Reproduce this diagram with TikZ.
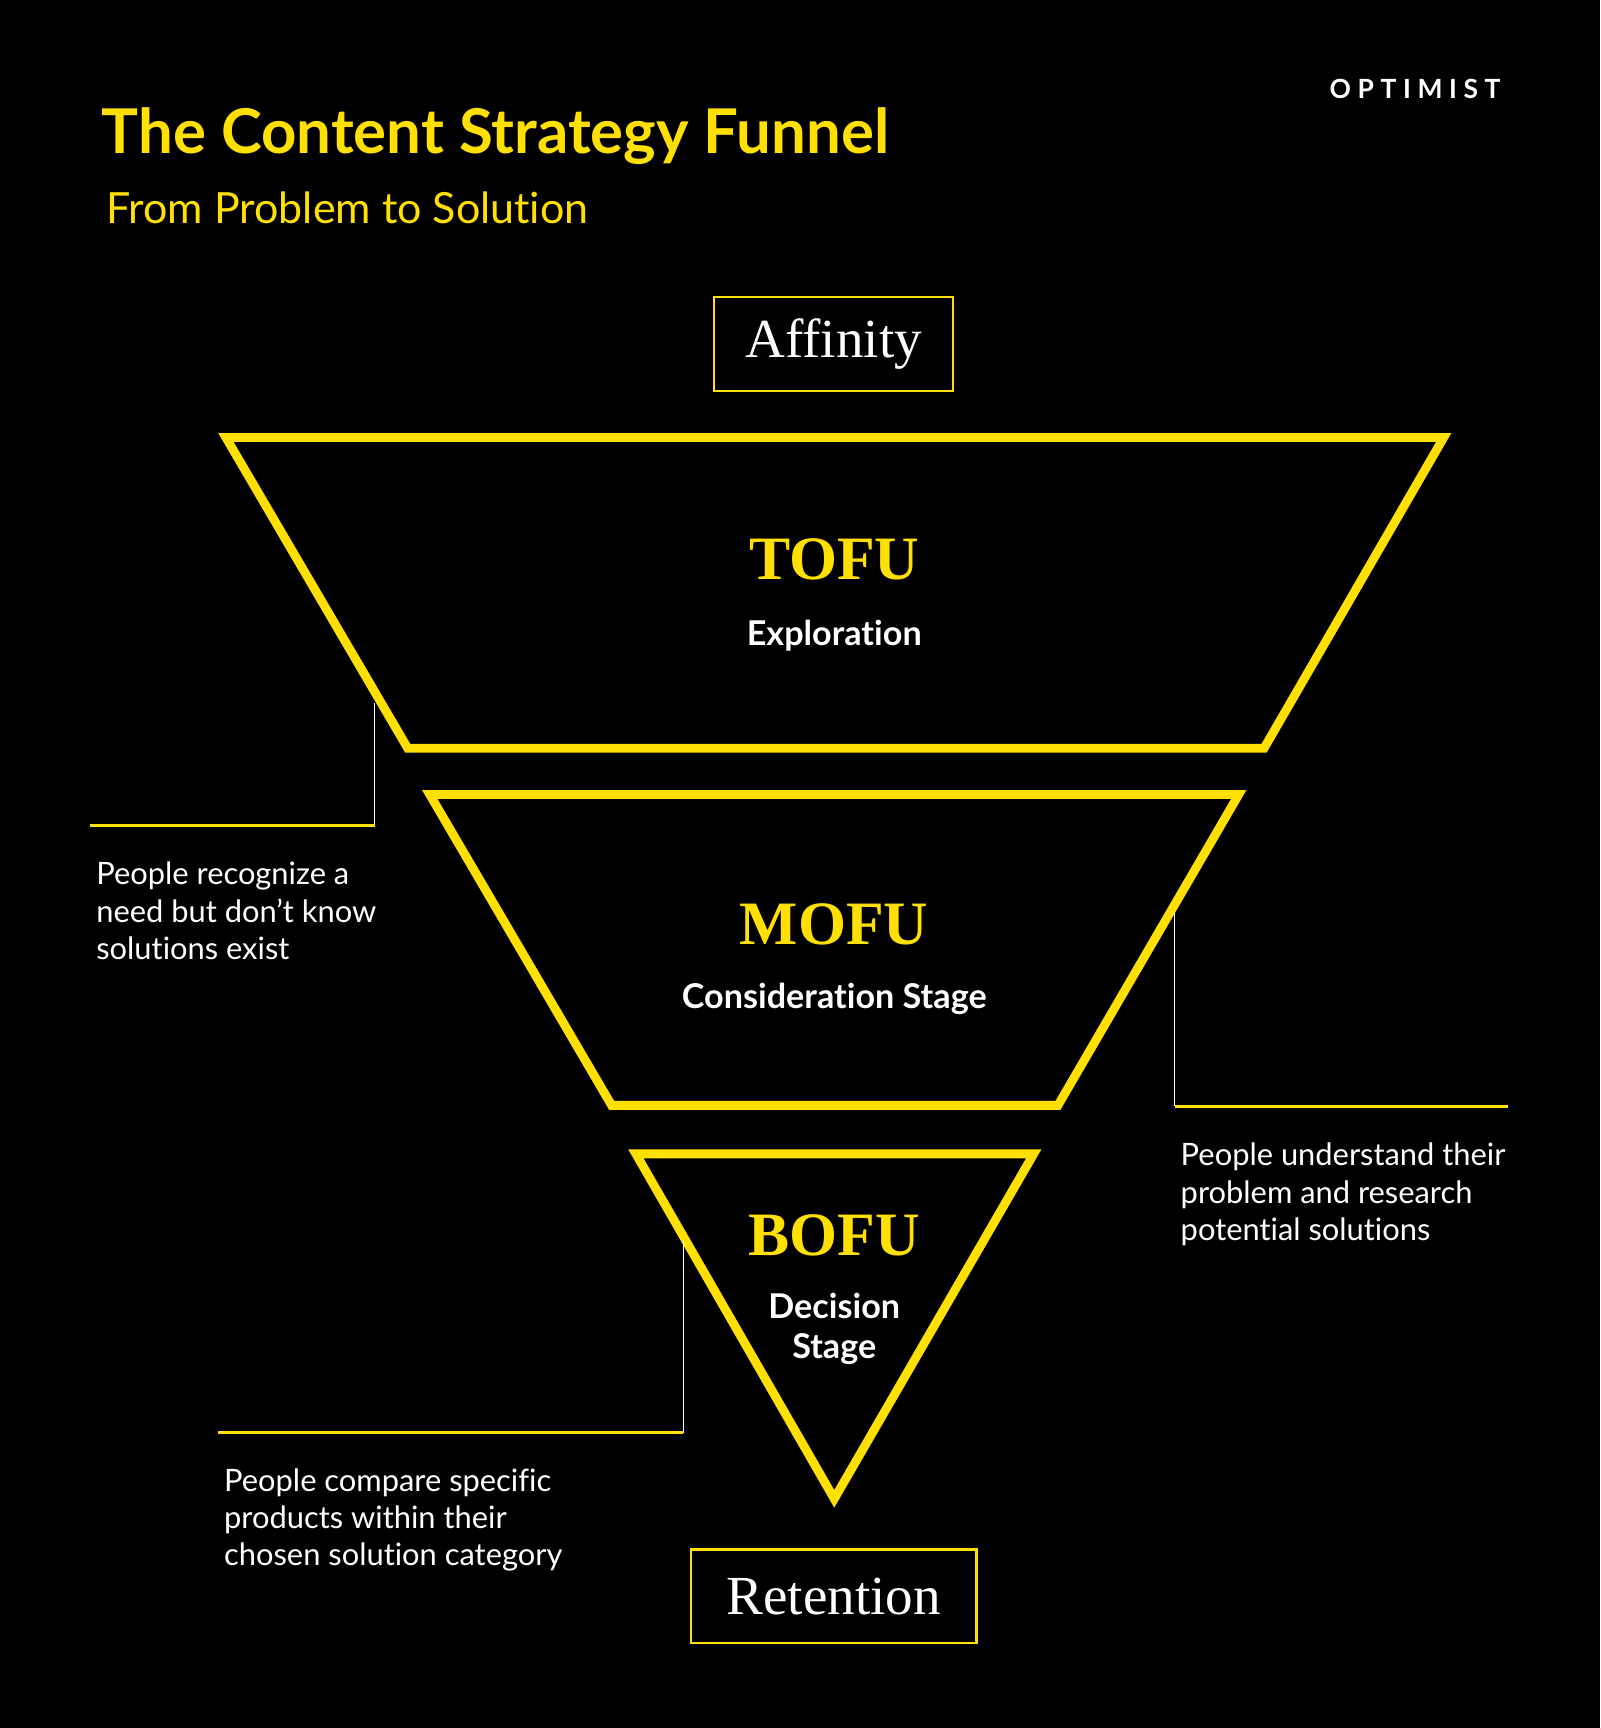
\documentclass[tikz,border=0pt]{standalone}
\usepackage{fontspec}
\setmainfont{Lato}[Ligatures={ResetAll,NoCommon,NoContextual,NoRare}]
\newfontfamily\serifx{Liberation Serif}
\definecolor{yel}{HTML}{FFE000}
\begin{document}
\begin{tikzpicture}[x=0.5pt,y=-0.5pt,
  funnel/.style={draw=yel,line width=4pt,line join=miter},
  lbox/.style={draw=yel,line width=1pt,minimum width=108.5pt,minimum height=42.5pt,text=white,font=\serifx\fontsize{25}{30}\selectfont},
  stage/.style={text=yel,font=\serifx\bfseries\fontsize{28}{32}\selectfont},
  sub/.style={text=white,font=\bfseries\fontsize{15.5}{19}\selectfont,align=center},
  note/.style={text=white,font=\fontsize{14}{16.8}\selectfont,align=left,anchor=north west,inner sep=0pt},
  lead/.style={draw=white,line width=0.6pt},
  bar/.style={draw=yel,line width=1.6pt}]
\fill[black] (0,0) rectangle (1452,1568);
\useasboundingbox (0,0) rectangle (1452,1568);
\node[anchor=base west,inner sep=0pt,text=yel,font=\bfseries\fontsize{28}{34}\selectfont] (title) at (92,139) {The Content Strategy Funnel};
\node[anchor=base west,inner sep=0pt,text=yel,font=\fontsize{19.5}{24}\selectfont] (subt) at (96,203) {From Problem to Solution};
\node[anchor=base east,inner sep=0pt,text=white,font=\bfseries\fontsize{12}{14}\selectfont] (logo) at (1362,89) {O\hspace{3pt}P\hspace{3pt}T\hspace{3pt}I\hspace{3pt}M\hspace{3pt}I\hspace{3pt}S\hspace{3pt}T};
\node[lbox] (aff) at (756.5,312) {Affinity};
\node[lbox,minimum width=129.5pt] (ret) at (756.5,1448.5) {Retention};
\draw[funnel] (205,397) -- (1310,397) -- (1147,679) -- (370,679) -- cycle;
\draw[funnel] (390,721) -- (1124,721) -- (960,1003) -- (555,1003) -- cycle;
\draw[funnel] (577,1047) -- (938,1047) -- (757,1360) -- cycle;
\node[stage] (tofu) at (757,508) {TOFU};
\node[sub] (tofus) at (757,577) {Exploration};
\node[stage] (mofu) at (757,839) {MOFU};
\node[sub] (mofus) at (757,906) {Consideration Stage};
\node[stage] (bofu) at (757,1121) {BOFU};
\node[sub] (bofus) at (757,1206) {Decision\\[-1pt]Stage};
\coordinate (c1a) at (340,638); \coordinate (c1b) at (340,749); \coordinate (c1c) at (82,749);
\draw[lead] (c1a) -- (c1b); \draw[bar] (c1b) -- (c1c);
\node[note] (n1) at (87,782) {People recognize a\\need but don't know\\solutions exist};
\coordinate (c2a) at (1066,828); \coordinate (c2b) at (1066,1004); \coordinate (c2c) at (1368,1004);
\draw[lead] (c2a) -- (c2b); \draw[bar] (c2b) -- (c2c);
\node[note] (n2) at (1071,1037) {People understand their\\problem and research\\potential solutions};
\coordinate (c3a) at (620,1125); \coordinate (c3b) at (620,1300); \coordinate (c3c) at (198,1300);
\draw[lead] (c3a) -- (c3b); \draw[bar] (c3b) -- (c3c);
\node[note] (n3) at (203,1332) {People compare specific\\products within their\\chosen solution category};
\end{tikzpicture}
\end{document}
